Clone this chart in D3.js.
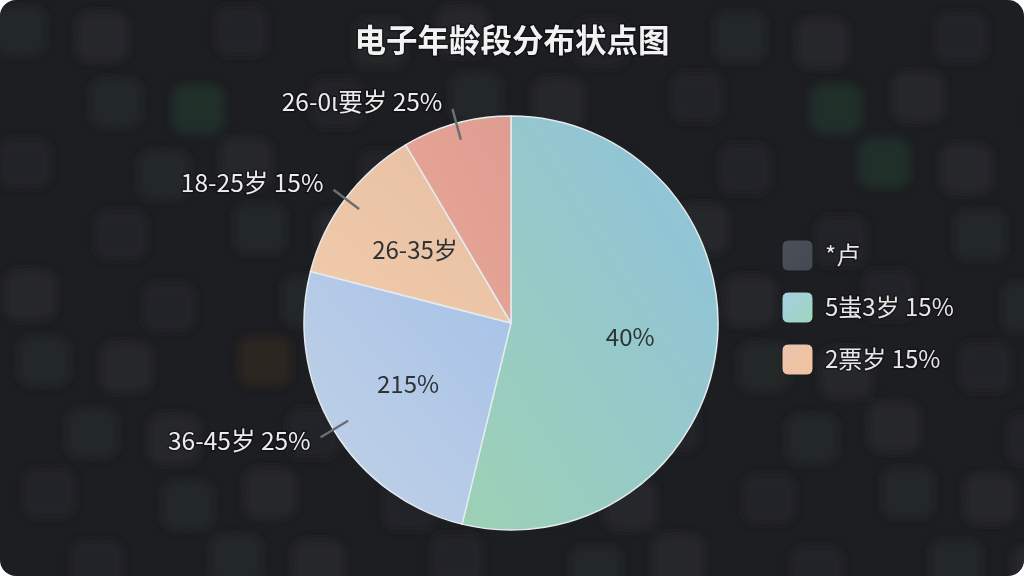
<!DOCTYPE html>
<html>
<head>
<meta charset="utf-8">
<script src="https://cdn.jsdelivr.net/npm/d3@7/dist/d3.min.js"></script>
<style>
  html, body { margin: 0; padding: 0; background: #ffffff; }
  svg { display: block; }
  text { font-family: "Noto Sans CJK SC", "Noto Sans", sans-serif; }
</style>
</head>
<body>
<svg id="chart" width="1024" height="576"></svg>
<script>
// ---- data ----
const title = "电子年龄段分布状点图";
const categories = ["46岁以上", "36-45岁", "18-25岁", "26-0ι要岁"];
const values = [53.8, 25.2, 12.5, 8.5];
const outerLabels = ["", "36-45岁 25%", "18-25岁 15%", "26-0ι要岁 25%"];
const innerLabels = ["40%", "215%", "26-35岁", ""];
const legendLabels = ["*卢", "5蚩3岁 15%", "2票岁 15%"];

// ---- styles ----
const sliceGrad = [
  ["#8fc2de", "#9dd1b4"],
  ["#a6c2e8", "#c3d2e6"],
  ["#e6bfa4", "#f1cbaa"],
  ["#df9c91", "#e8a898"]
];
const legendGrad = [
  ["#4a4f58", "#444952"],
  ["#a6d0e6", "#9dd6bb"],
  ["#e9c4b0", "#f2c39c"]
];

const W = 1024, H = 576;
const svg = d3.select("#chart");
const defs = svg.append("defs");

// card background with rounded corners
svg.append("rect").attr("width", W).attr("height", H).attr("fill", "#ffffff");
const clip = defs.append("clipPath").attr("id", "card");
clip.append("rect").attr("width", W).attr("height", H).attr("rx", 16).attr("ry", 16);
const bg = svg.append("g").attr("clip-path", "url(#card)");
bg.append("rect").attr("width", W).attr("height", H).attr("fill", "#1d1e21");

// blurred app-icon decoration (deterministic grid)
const blur = defs.append("filter").attr("id", "blur").attr("x", "-50%").attr("y", "-50%").attr("width", "200%").attr("height", "200%");
blur.append("feGaussianBlur").attr("stdDeviation", 5);
const tints = ["#2a2b2f", "#28292d", "#2c2d31", "#26272b"];
const accents = {"0,1": "#213529", "2,1": "#213529", "11,1": "#213529", "12,2": "#213529", "11,2": "#352626", "12,3": "#33301f", "13,1": "#33301f", "2,5": "#242a36", "0,6": "#213126", "3,5": "#30281f", "1,2": "#33301f"};
const gx = d3.range(0, 15), gy = d3.range(0, 9);
const icons = bg.append("g").attr("filter", "url(#blur)");
gy.forEach(j => gx.forEach(i => {
  const k = (i * 7 + j * 3) % 5;
  if (k >= 3) return;
  const key = i + "," + j;
  const x = i * 72 + ((j % 2) ? 18 : -6) + (k * 5);
  const y = j * 66 + 6 + ((i % 3) * 6);
  icons.append("rect")
    .attr("x", x).attr("y", y)
    .attr("width", 52).attr("height", 50)
    .attr("rx", 14)
    .attr("fill", accents[key] || tints[k % tints.length])
    .attr("opacity", accents[key] ? 0.8 : 0.6);
}));

// title
svg.append("text")
  .attr("x", 512).attr("y", 52)
  .attr("text-anchor", "middle")
  .attr("font-size", 31.5).attr("font-weight", 700)
  .attr("fill", "#f2f2f2")
  .attr("stroke", "#000").attr("stroke-width", 3).attr("stroke-opacity", 0.35)
  .attr("paint-order", "stroke")
  .text(title);

// pie
const cx = 511, cy = 323, R = 207;
const pie = d3.pie().sort(null).value(d => d)(values);
const arc = d3.arc().innerRadius(0).outerRadius(R);
const inArc = d3.arc().innerRadius(R * 0.58).outerRadius(R * 0.58);
const lineIn = d3.arc().innerRadius(R - 17).outerRadius(R - 17);
const lineOut = d3.arc().innerRadius(R + 15).outerRadius(R + 15);

sliceGrad.forEach((c, i) => {
  const g = defs.append("linearGradient").attr("id", "sg" + i)
    .attr("x1", 1).attr("y1", 0).attr("x2", 0).attr("y2", 1);
  g.append("stop").attr("offset", 0).attr("stop-color", c[0]);
  g.append("stop").attr("offset", 1).attr("stop-color", c[1]);
});
legendGrad.forEach((c, i) => {
  const g = defs.append("linearGradient").attr("id", "lg" + i)
    .attr("x1", 0).attr("y1", 0).attr("x2", 1).attr("y2", 1);
  g.append("stop").attr("offset", 0).attr("stop-color", c[0]);
  g.append("stop").attr("offset", 1).attr("stop-color", c[1]);
});

const pg = svg.append("g").attr("transform", `translate(${cx},${cy})`);
pg.selectAll("path.slice").data(pie).enter().append("path")
  .attr("class", "slice")
  .attr("d", arc)
  .attr("fill", (d, i) => `url(#sg${i})`)
  .attr("stroke", "#e4eaee").attr("stroke-width", 1.5).attr("stroke-linejoin", "round");

// inner labels
pg.selectAll("text.inner").data(pie).enter().append("text")
  .attr("class", "inner")
  .attr("transform", d => `translate(${inArc.centroid(d)})`)
  .attr("text-anchor", "middle").attr("dy", "0.35em")
  .attr("font-size", 24).attr("fill", "#2f3336")
  .text((d, i) => innerLabels[i]);

// leader lines + outer labels
pie.forEach((d, i) => {
  if (!outerLabels[i]) return;
  const a = lineIn.centroid(d), b = lineOut.centroid(d);
  pg.append("line")
    .attr("x1", a[0]).attr("y1", a[1]).attr("x2", b[0]).attr("y2", b[1])
    .attr("stroke", "#6b6e73").attr("stroke-width", 2.5);
  pg.append("text")
    .attr("x", b[0] - 10).attr("y", b[1] + (b[1] < 0 ? 2 : 13))
    .attr("text-anchor", "end")
    .attr("font-size", 24.5).attr("fill", "#ececec")
    .attr("stroke", "#000").attr("stroke-width", 3).attr("stroke-opacity", 0.35)
    .attr("paint-order", "stroke")
    .text(outerLabels[i]);
});

// legend
const lgY = d3.scaleBand().domain(d3.range(legendLabels.length)).range([240, 396]).paddingInner(0);
const lg = svg.append("g");
legendLabels.forEach((t, i) => {
  const y = lgY(i);
  lg.append("rect")
    .attr("x", 782).attr("y", y).attr("width", 31).attr("height", 31).attr("rx", 6)
    .attr("fill", `url(#lg${i})`)
    .attr("stroke", "#1a1b1e").attr("stroke-width", 1);
  lg.append("text")
    .attr("x", 825).attr("y", y + 16).attr("dy", "0.35em")
    .attr("font-size", 24).attr("fill", "#e6e6e6")
    .attr("stroke", "#000").attr("stroke-width", 3).attr("stroke-opacity", 0.3)
    .attr("paint-order", "stroke")
    .text(t);
});
</script>
</body>
</html>
